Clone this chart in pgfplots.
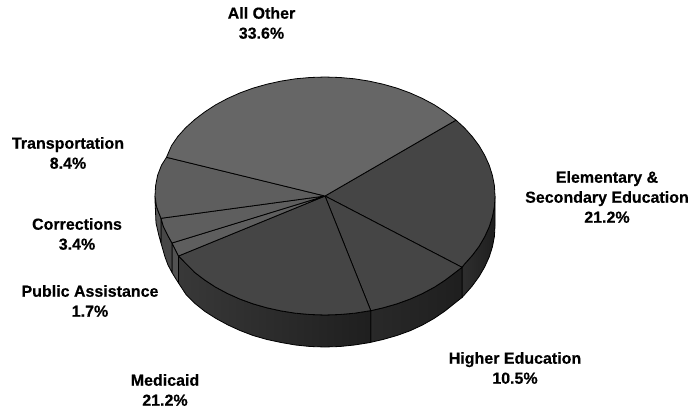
\documentclass[border=0pt]{standalone}
\usepackage{pgfplots}
\pgfplotsset{compat=1.18}
\usepackage{fontspec}
\setmainfont[BoldFeatures={FakeBold=0.5}]{Liberation Sans}
\definecolor{otherc}{HTML}{666666}
\definecolor{leftc}{HTML}{5E5E5E}
\definecolor{darkc}{HTML}{454545}
\tikzset{
    wedge/.style={draw=black, line width=0.8pt, line join=round},
    lab/.style={align=center, font=\fontsize{16}{20}\selectfont\bfseries, text=black, inner sep=0pt},
}
\begin{document}
\begin{tikzpicture}
\useasboundingbox (0,0) rectangle (691pt,409pt);
\begin{axis}[
    at={(0,0)}, anchor=south west,
    scale only axis, width=691pt, height=409pt,
    xmin=0, xmax=691, ymin=0, ymax=409,
    y dir=reverse, hide axis, clip=false,
]
% side wall, pixel coordinates of the reference
\addplot[wedge, left color=black!82, right color=black!88] coordinates {(495,196)(494.4,206.4)(492.4,216.7)(489.2,226.8)(484.7,236.7)(479.1,246.3)(472.2,255.5)(464.3,264.3)(462,267.3)(462,297.5)(464.3,295)(472.2,286)(479.1,276.5)(484.7,266.9)(489.2,257)(492.4,246.9)(494.4,236.5)(495,226)(495,196)};
\addplot[wedge, left color=black!84, right color=black!88] coordinates {(462,267.3)(455.2,272.5)(445.2,280.1)(434.3,287.2)(422.5,293.5)(410,299.1)(396.8,303.9)(383.1,307.8)(370.8,310.7)(370.8,342.3)(383,339.5)(397,335.5)(410,330.8)(422.5,325)(434,318.5)(445,311)(455,303)(462,297.5)(462,267.3)};
\addplot[wedge, left color=black!78, right color=black!88] coordinates {(370.8,310.7)(369,310.9)(354.5,313.2)(339.8,314.5)(325,315)(310.2,314.5)(295.5,313.2)(281,310.9)(266.9,307.8)(253.2,303.9)(240,299.1)(227.5,293.5)(215.7,287.2)(204.8,280.1)(194.8,272.5)(186.7,264.3)(178.5,256)(178.5,283)(186,294.5)(195,303.5)(205,311.5)(216,318.5)(228,325)(240,330.5)(253,335.5)(267,339.5)(281,342.5)(295.5,345)(310,346.5)(325,347)(340,346.5)(354.5,345)(369,342.7)(370.8,342.3)(370.8,310.7)};
\addplot[wedge, fill=black!68] coordinates {(178.5,256)(175,249)(172,243)(172,272.5)(175,277.5)(178.5,283)(178.5,256)};
\addplot[wedge, fill=black!72] coordinates {(172,243)(168.5,236.7)(163.5,226.8)(161,218.3)(161,243)(165,257)(168,265)(172,272.5)(172,243)};
\addplot[wedge, fill=black!66] coordinates {(161,218.3)(158.5,212)(156.5,206.4)(155,196)(155,200)(156,223)(159,236)(161,243)(161,218.3)};
% top face
\addplot[wedge, fill=darkc] coordinates {(325,196)(456,120.1)(464.3,127.7)(472.2,136.5)(479.1,145.7)(484.7,155.3)(489.2,165.2)(492.4,175.3)(494.4,185.6)(495,196)(494.4,206.4)(492.4,216.7)(489.2,226.8)(484.7,236.7)(479.1,246.3)(472.2,255.5)(464.3,264.3)(462,267.3)(325,196)};
\addplot[wedge, fill=darkc] coordinates {(325,196)(462,267.3)(455.2,272.5)(445.2,280.1)(434.3,287.2)(422.5,293.5)(410,299.1)(396.8,303.9)(383.1,307.8)(370.8,310.7)(325,196)};
\addplot[wedge, fill=darkc] coordinates {(325,196)(370.8,310.7)(369,310.9)(354.5,313.2)(339.8,314.5)(325,315)(310.2,314.5)(295.5,313.2)(281,310.9)(266.9,307.8)(253.2,303.9)(240,299.1)(227.5,293.5)(215.7,287.2)(204.8,280.1)(194.8,272.5)(186.7,264.3)(178.5,256)(325,196)};
\addplot[wedge, fill=leftc] coordinates {(325,196)(178.5,256)(175,249)(172,243)(325,196)};
\addplot[wedge, fill=leftc] coordinates {(325,196)(172,243)(168.5,236.7)(163.5,226.8)(161,218.3)(325,196)};
\addplot[wedge, fill=leftc] coordinates {(325,196)(161,218.3)(158.5,212)(156.5,206.4)(155,196)(155.6,185.6)(157.6,175.3)(161.5,165.2)(166.5,157.3)(325,196)};
\addplot[wedge, fill=otherc] coordinates {(325,196)(166.5,157.3)(171.5,145.7)(177.8,136.5)(185.7,127.7)(194.8,119.5)(204.8,111.9)(215.7,104.8)(227.5,98.5)(240,92.9)(253.2,88.1)(266.9,84.2)(281,81.1)(295.5,78.8)(310.2,77.5)(325,77)(339.8,77.5)(354.5,78.8)(369,81.1)(383.1,84.2)(396.8,88.1)(410,92.9)(422.5,98.5)(434.3,104.8)(445.2,111.9)(455.2,119.5)(456,120.1)(325,196)};
% labels
\node[lab] at (axis cs:261.5,23) {All Other\\33.6\%};
\node[lab] at (axis cs:68,153) {Transportation\\8.4\%};
\node[lab] at (axis cs:77,234) {Corrections\\3.4\%};
\node[lab] at (axis cs:90,301) {Public Assistance\\1.7\%};
\node[lab] at (axis cs:165,390) {Medicaid\\21.2\%};
\node[lab] at (axis cs:515,368) {Higher Education\\10.5\%};
\node[lab] at (axis cs:607,197) {Elementary \&\\Secondary Education\\21.2\%};
\end{axis}
\end{tikzpicture}
\end{document}
